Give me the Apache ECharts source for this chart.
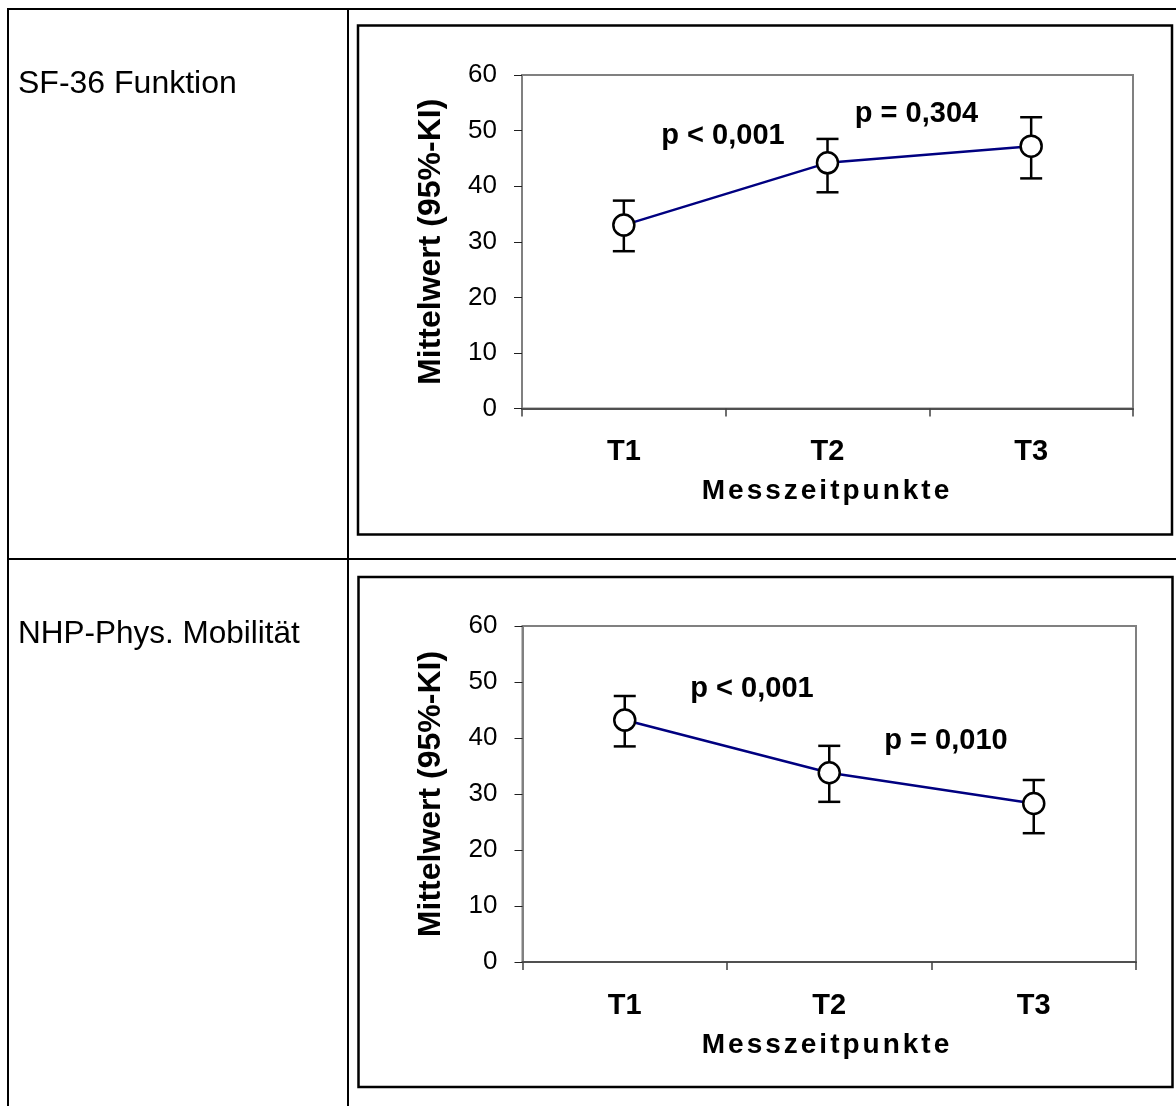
<!DOCTYPE html>
<html>
<head>
<meta charset="utf-8">
<title>Mittelwerte zu drei Messzeitpunkten</title>
<script src="https://cdn.jsdelivr.net/npm/echarts@6/dist/echarts.min.js"></script>
<style>
  html, body { margin: 0; padding: 0; background: #ffffff; }
  #main { width: 1176px; height: 1106px; }
</style>
</head>
<body>
<div id="main"></div>
<script>
// Messzeitpunkte (categories)
const timepoints = ['T1', 'T2', 'T3'];

// SF-36 Funktion: mean with 95% confidence interval
const sfMean = [33.0, 44.2, 47.2];
const sfLow  = [28.3, 38.9, 41.4];
const sfHigh = [37.4, 48.5, 52.4];

// NHP - Physische Mobilität: mean with 95% confidence interval
const nhpMean = [43.2, 33.8, 28.3];
const nhpLow  = [38.5, 28.6, 23.0];
const nhpHigh = [47.5, 38.6, 32.5];

// p-values of the pairwise comparisons (T1-T2, T2-T3)
const sfPValues  = ['p < 0,001', 'p = 0,304'];
const nhpPValues = ['p < 0,001', 'p = 0,010'];

// Row captions of the table
const rowTitles = ['SF-36 Funktion', 'NHP-Phys. Mobilität'];

const yTitle = 'Mittelwert (95%-KI)';
const xTitle = 'Messzeitpunkte';

const FONT = '"Liberation Sans", Arial, Helvetica, sans-serif';
const SPACED_ZLEVEL = 1;   // own canvas layer for letter-spaced axis titles
const LETTER_SPACING = 3;

const chart = echarts.init(document.getElementById('main'), null, { renderer: 'canvas', width: 1176, height: 1106 });
try {
  const layer = chart.getZr().painter.getLayer(SPACED_ZLEVEL);
  layer.ctx.letterSpacing = LETTER_SPACING + 'px';
} catch (e) { /* plain spacing if unsupported */ }

const grids = [
  { left: 522, top: 75, width: 611, height: 333.5 },
  { left: 522.5, top: 626, width: 613.5, height: 336 }
];

function makeXAxis(gi) {
  return {
    type: 'category', gridIndex: gi, data: timepoints, boundaryGap: true,
    axisLine: { lineStyle: { color: '#505050', width: 2 } },
    axisTick: { show: true, inside: false, length: 8, alignWithLabel: false, lineStyle: { color: '#404040', width: 1.5 } },
    axisLabel: { margin: 29, color: '#000', fontFamily: FONT, fontWeight: 'bold', fontSize: 29 },
    splitLine: { show: false }
  };
}
function makeYAxis(gi) {
  return {
    type: 'value', gridIndex: gi, min: 0, max: 60, interval: 10,
    name: yTitle, nameLocation: 'middle', nameGap: 75, nameRotate: 90,
    nameTextStyle: { color: '#000', fontFamily: FONT, fontWeight: 'bold', fontSize: 32 },
    axisLine: { show: true, lineStyle: { color: '#808080', width: 2 } },
    axisTick: { show: true, inside: false, length: 8, lineStyle: { color: '#202020', width: 1 } },
    axisLabel: { margin: 25, color: '#000', fontFamily: FONT, fontSize: 26 },
    splitLine: { show: false }
  };
}

function errorBarSeries(gi, low, high) {
  const data = low.map((l, i) => [i, l, high[i]]);
  return {
    type: 'custom', xAxisIndex: gi, yAxisIndex: gi, z: 2, silent: true,
    data: data,
    encode: { x: 0, y: [1, 2] },
    renderItem: function (params, api) {
      const lo = api.coord([api.value(0), api.value(1)]);
      const hi = api.coord([api.value(0), api.value(2)]);
      const hw = 11;
      const st = { stroke: '#000', lineWidth: 2.5, fill: null };
      return {
        type: 'group',
        children: [
          { type: 'line', shape: { x1: lo[0], y1: lo[1], x2: hi[0], y2: hi[1] }, style: st },
          { type: 'line', shape: { x1: lo[0] - hw, y1: lo[1], x2: lo[0] + hw, y2: lo[1] }, style: st },
          { type: 'line', shape: { x1: hi[0] - hw, y1: hi[1], x2: hi[0] + hw, y2: hi[1] }, style: st }
        ]
      };
    }
  };
}

function meanSeries(gi, values) {
  return {
    type: 'line', xAxisIndex: gi, yAxisIndex: gi, z: 3,
    data: values,
    symbol: 'circle', symbolSize: 21,
    itemStyle: { color: '#ffffff', borderColor: '#000000', borderWidth: 2.5 },
    lineStyle: { color: '#000080', width: 2.5 },
    label: { show: false },
    emphasis: { disabled: true }
  };
}

function pText(text, x, y) {
  return {
    type: 'text', x: x, y: y, z: 10,
    style: { text: text, fill: '#000', font: 'bold 29px ' + FONT, textAlign: 'center', textVerticalAlign: 'middle' }
  };
}
function hLine(x1, x2, y, w) {
  return { type: 'line', shape: { x1: x1, y1: y, x2: x2, y2: y }, style: { stroke: '#000', lineWidth: w } };
}
function vLine(x, y1, y2, w) {
  return { type: 'line', shape: { x1: x, y1: y1, x2: x, y2: y2 }, style: { stroke: '#000', lineWidth: w } };
}

const graphics = [
  // table frame
  hLine(7, 1176, 9, 2),
  hLine(7, 1176, 559, 2),
  vLine(8, 8, 1106, 2),
  vLine(348, 8, 1106, 2),
  // chart frames
  { type: 'rect', z: 0, shape: { x: 358, y: 25.5, width: 814, height: 509 }, style: { fill: null, stroke: '#000', lineWidth: 2.5 } },
  { type: 'rect', z: 0, shape: { x: 358.5, y: 577, width: 814, height: 510 }, style: { fill: null, stroke: '#000', lineWidth: 2.5 } },
  // row captions
  { type: 'text', x: 18, y: 84, style: { text: rowTitles[0], fill: '#000', font: '32px ' + FONT, textAlign: 'left', textVerticalAlign: 'middle' } },
  { type: 'text', x: 18, y: 634.5, style: { text: rowTitles[1], fill: '#000', font: '31.5px ' + FONT, textAlign: 'left', textVerticalAlign: 'middle' } },
  // x-axis titles (letter-spaced layer)
  { type: 'text', zlevel: SPACED_ZLEVEL, x: 827, y: 491, style: { text: xTitle, fill: '#000', font: 'bold 28px ' + FONT, textAlign: 'center', textVerticalAlign: 'middle' } },
  { type: 'text', zlevel: SPACED_ZLEVEL, x: 827, y: 1045, style: { text: xTitle, fill: '#000', font: 'bold 28px ' + FONT, textAlign: 'center', textVerticalAlign: 'middle' } },
  // p-values
  pText(sfPValues[0], 723, 135.5),
  pText(sfPValues[1], 916.5, 113.5),
  pText(nhpPValues[0], 752, 689),
  pText(nhpPValues[1], 946, 740.5)
];

chart.setOption({
  animation: false,
  backgroundColor: '#ffffff',
  grid: grids.map(g => Object.assign({ show: true, borderColor: '#808080', borderWidth: 2, backgroundColor: 'transparent', containLabel: false }, g)),
  xAxis: [makeXAxis(0), makeXAxis(1)],
  yAxis: [makeYAxis(0), makeYAxis(1)],
  series: [
    errorBarSeries(0, sfLow, sfHigh),
    meanSeries(0, sfMean),
    errorBarSeries(1, nhpLow, nhpHigh),
    meanSeries(1, nhpMean)
  ],
  graphic: { elements: graphics }
});
</script>
</body>
</html>
